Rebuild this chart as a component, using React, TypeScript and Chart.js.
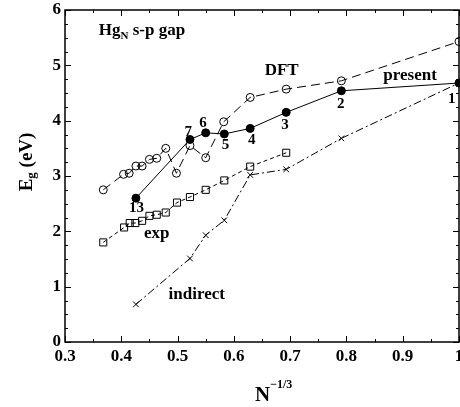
import React, { useEffect, useRef } from "react";
import { Chart, registerables } from "chart.js";
Chart.register(...registerables);

const dftX = [0.368, 0.404, 0.414, 0.426, 0.437, 0.45, 0.463, 0.479, 0.498, 0.522, 0.55, 0.582, 0.629, 0.693, 0.791, 1.0];
const dftY = [2.75, 3.03, 3.05, 3.18, 3.18, 3.3, 3.32, 3.5, 3.05, 3.55, 3.33, 3.98, 4.42, 4.57, 4.72, 5.43];

const presentX = [0.426, 0.522, 0.55, 0.583, 0.629, 0.693, 0.791, 1.0];
const presentY = [2.6, 3.66, 3.78, 3.76, 3.86, 4.15, 4.54, 4.68];

const expX = [0.368, 0.405, 0.415, 0.425, 0.437, 0.45, 0.463, 0.479, 0.499, 0.522, 0.55, 0.583, 0.629, 0.693];
const expY = [1.8, 2.07, 2.15, 2.15, 2.19, 2.28, 2.3, 2.34, 2.52, 2.62, 2.75, 2.92, 3.17, 3.42];

const indirectX = [0.426, 0.522, 0.55, 0.583, 0.629, 0.693, 0.791];
const indirectY = [0.68, 1.51, 1.93, 2.2, 3.02, 3.12, 3.68];
// dash-dot continuation to the N=1 present point (no marker)
const indirectTailX = [0.791, 1.0];
const indirectTailY = [3.68, 4.68];

const xTicks = [0.3, 0.4, 0.5, 0.6, 0.7, 0.8, 0.9, 1];
const xTickLabels = ["0.3", "0.4", "0.5", "0.6", "0.7", "0.8", "0.9", "1"];
const yTicks = [0, 1, 2, 3, 4, 5, 6];

const labelTexts = ["DFT", "present", "1", "2", "3", "4", "5", "6", "7", "13", "exp", "indirect"];
const labelX = [0.685, 0.913, 0.987, 0.79, 0.691, 0.632, 0.585, 0.545, 0.519, 0.427, 0.463, 0.534];
const labelY = [4.9, 4.81, 4.39, 4.3, 3.92, 3.65, 3.56, 3.96, 3.8, 2.42, 1.96, 0.85];

const pts = (xs: number[], ys: number[]) => xs.map((x, i) => ({ x, y: ys[i] }));

const FONT = "'Liberation Serif', 'DejaVu Serif', serif";

const framePlugin = {
  id: "frame",
  afterDraw(chart: any) {
    const { ctx, chartArea: a, scales } = chart;
    const xs = scales.x, ys = scales.y;
    ctx.save();
    ctx.strokeStyle = "#000";
    ctx.lineWidth = 1.5;
    ctx.strokeRect(a.left, a.top, a.right - a.left, a.bottom - a.top);
    ctx.lineWidth = 1;
    ctx.beginPath();
    for (let i = 6; i <= 20; i++) {
      const v = i * 0.05;
      const px = Math.round(xs.getPixelForValue(v)) + 0.5;
      const len = i % 2 === 0 ? 6 : 3;
      ctx.moveTo(px, a.bottom); ctx.lineTo(px, a.bottom - len);
      ctx.moveTo(px, a.top); ctx.lineTo(px, a.top + len);
    }
    for (let i = 0; i <= 24; i++) {
      const v = i * 0.25;
      const py = Math.round(ys.getPixelForValue(v)) + 0.5;
      const len = i % 4 === 0 ? 6 : 3;
      ctx.moveTo(a.left, py); ctx.lineTo(a.left + len, py);
      ctx.moveTo(a.right, py); ctx.lineTo(a.right - len, py);
    }
    ctx.stroke();

    ctx.fillStyle = "#000";
    // x tick labels
    ctx.textAlign = "center";
    ctx.textBaseline = "middle";
    ctx.font = `bold 17px ${FONT}`;
    xTicks.forEach((v, i) => {
      ctx.fillText(xTickLabels[i], xs.getPixelForValue(v), a.bottom + 15);
    });

    // annotations
    labelTexts.forEach((t, i) => {
      const isNum = /^\d+$/.test(t);
      ctx.font = `bold ${isNum ? 15 : 17}px ${FONT}`;
      ctx.fillText(t, xs.getPixelForValue(labelX[i]), ys.getPixelForValue(labelY[i]));
    });

    // Hg_N s-p gap
    ctx.textAlign = "left";
    ctx.textBaseline = "alphabetic";
    let hx = xs.getPixelForValue(0.36);
    const hy = ys.getPixelForValue(5.55);
    ctx.font = `bold 17px ${FONT}`;
    ctx.fillText("Hg", hx, hy);
    hx += ctx.measureText("Hg").width;
    ctx.font = `bold 11px ${FONT}`;
    ctx.fillText("N", hx, hy + 4);
    hx += ctx.measureText("N").width;
    ctx.font = `bold 17px ${FONT}`;
    ctx.fillText(" s-p gap", hx, hy);

    // y title
    ctx.save();
    ctx.translate(27, a.top + 152);
    ctx.rotate(-Math.PI / 2);
    ctx.textBaseline = "middle";
    ctx.font = `bold 19px ${FONT}`;
    const w1 = ctx.measureText("E").width;
    ctx.font = `bold 13px ${FONT}`;
    const w2 = ctx.measureText("g").width;
    ctx.font = `bold 19px ${FONT}`;
    const w3 = ctx.measureText(" (eV)").width;
    let sx = -(w1 + w2 + w3) / 2;
    ctx.fillText("E", sx, 0);
    sx += w1;
    ctx.font = `bold 13px ${FONT}`;
    ctx.fillText("g", sx, 5);
    sx += w2;
    ctx.font = `bold 19px ${FONT}`;
    ctx.fillText(" (eV)", sx, 0);
    ctx.restore();

    // x title
    ctx.textBaseline = "alphabetic";
    ctx.font = `bold 21px ${FONT}`;
    const nw = ctx.measureText("N").width;
    let tx = 255;
    ctx.fillText("N", tx, 401);
    tx += nw;
    ctx.font = `bold 12px ${FONT}`;
    ctx.fillText("\u22121/3", tx, 388);
    ctx.restore();
  },
};

export default function App() {
  const ref = useRef<HTMLCanvasElement>(null);
  useEffect(() => {
    if (!ref.current) return;
    const chart = new Chart(ref.current, {
      type: "scatter",
      data: {
        datasets: [
          {
            data: pts(dftX, dftY),
            showLine: true,
            borderColor: "#000",
            borderWidth: 1,
            borderDash: [9, 5],
            pointStyle: "circle",
            pointRadius: 4,
            pointBackgroundColor: "rgba(255,255,255,0)",
            pointBorderColor: "#000",
            pointBorderWidth: 1,
          },
          {
            data: pts(expX, expY),
            showLine: true,
            borderColor: "#000",
            borderWidth: 1,
            borderDash: [4, 3],
            pointStyle: "rect",
            pointRadius: 5,
            pointBackgroundColor: "rgba(255,255,255,0)",
            pointBorderColor: "#000",
            pointBorderWidth: 1,
          },
          {
            data: pts(indirectTailX, indirectTailY),
            showLine: true,
            borderColor: "#000",
            borderWidth: 1,
            borderDash: [8, 3, 2, 3],
            pointRadius: 0,
          },
          {
            data: pts(indirectX, indirectY),
            showLine: true,
            borderColor: "#000",
            borderWidth: 1,
            borderDash: [8, 3, 2, 3],
            pointStyle: "crossRot",
            pointRadius: 4,
            pointBorderColor: "#000",
            pointBorderWidth: 1,
          },
          {
            data: pts(presentX, presentY),
            showLine: true,
            borderColor: "#000",
            borderWidth: 1,
            pointStyle: "circle",
            pointRadius: 4,
            pointBackgroundColor: "#000",
            pointBorderColor: "#000",
          },
        ],
      },
      options: {
        animation: false,
        responsive: false,
        events: [],
        clip: false,
        layout: { autoPadding: false, padding: { top: 10, right: 1, left: 0, bottom: 0 } },
        plugins: { legend: { display: false }, tooltip: { enabled: false } },
        scales: {
          x: {
            type: "linear",
            min: 0.3,
            max: 1,
            afterFit: (s: any) => {
              s.height = 65;
              s.paddingLeft = 0;
              s.paddingRight = 0;
            },
            afterBuildTicks: (s: any) => { s.ticks = xTicks.map((v) => ({ value: v })); },
            grid: { display: false, drawTicks: false },
            border: { display: false },
            ticks: { display: false },
          },
          y: {
            type: "linear",
            min: 0,
            max: 6,
            afterFit: (s: any) => {
              s.width = 65;
              s.paddingTop = 0;
              s.paddingBottom = 0;
            },
            afterBuildTicks: (s: any) => { s.ticks = yTicks.map((v) => ({ value: v })); },
            grid: { display: false, drawTicks: false },
            border: { display: false },
            ticks: {
              padding: 4,
              color: "#000",
              font: { family: FONT, size: 17, weight: "bold" },
              callback: (v: any) => String(Math.round(Number(v))),
            },
          },
        },
      },
      plugins: [framePlugin],
    });
    return () => chart.destroy();
  }, []);
  return (
    <div style={{ position: "fixed", left: 0, top: 0, width: 460, height: 407, background: "#fff" }}>
      <canvas ref={ref} width={460} height={407} style={{ display: "block" }} />
    </div>
  );
}
